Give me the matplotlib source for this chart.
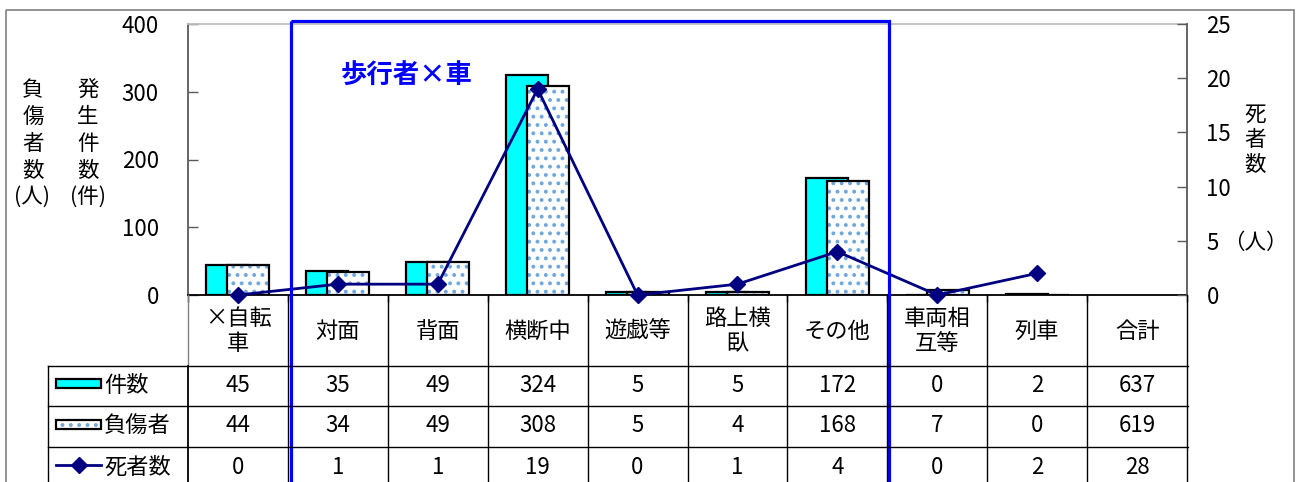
import matplotlib
matplotlib.use("Agg")
import matplotlib.pyplot as plt
from matplotlib.patches import Rectangle
from matplotlib.transforms import blended_transform_factory
import numpy as np

plt.rcParams['font.family'] = ['Noto Sans CJK JP', 'DejaVu Sans']
plt.rcParams['hatch.linewidth'] = 1.6

categories = ['×自転\n車', '対面', '背面', '横断中', '遊戯等', '路上横\n臥',
              'その他', '車両相\n互等', '列車', '合計']
cases = [45, 35, 49, 324, 5, 5, 172, 0, 2, 637]
injured = [44, 34, 49, 308, 5, 4, 168, 7, 0, 619]
deaths = [0, 1, 1, 19, 0, 1, 4, 0, 2, 28]
row_names = ['件数', '負傷者', '死者数']
left_ticks = [0, 100, 200, 300, 400]
right_ticks = [0, 5, 10, 15, 20, 25]

W, H = 1298, 482
CYAN = '#00FFFF'
DOT = '#6FA8DC'
NAVY = '#000080'
FS = 16

fig = plt.figure(figsize=(W / 100, H / 100), dpi=100)
fig.patch.set_facecolor('white')

# main plot area (pixel boxes converted to figure fractions)
ax = fig.add_axes([188 / W, (H - 295) / H, (1187 - 188) / W, (295 - 24) / H])
ax.set_xlim(-0.5, len(categories) - 0.5)
ax.set_ylim(0, 400)
n = len(categories) - 1  # 合計 not plotted
x = np.arange(n)
bw = 0.42
ax.bar(x - 0.105, cases[:n], bw, color=CYAN, edgecolor='black', linewidth=1.6, zorder=2)
ax.bar(x + 0.105, injured[:n], bw, color='white', edgecolor=DOT, linewidth=0,
       hatch='..', zorder=3)
ax.bar(x + 0.105, injured[:n], bw, fill=False, edgecolor='black', linewidth=1.6, zorder=4)

ax.set_yticks(left_ticks)
ax.tick_params(axis='y', direction='in', length=7, width=1, color='#595959',
               labelsize=FS, pad=21)
ax.set_xticks(np.arange(-0.5, len(categories)))
ax.set_xticklabels([])
ax.tick_params(axis='x', direction='out', length=5, width=1, color='black')
ax.spines['top'].set_color('#C0C0C0')
ax.spines['left'].set_color('#595959')
ax.spines['bottom'].set_color('black')
ax.spines['right'].set_visible(False)
for s in ax.spines.values():
    s.set_linewidth(1.3)

ax2 = ax.twinx()
ax2.set_ylim(0, 25)
ax2.plot(x, deaths[:n], color=NAVY, linewidth=2, marker='D', markersize=8,
         zorder=5, clip_on=False)
ax2.set_yticks(right_ticks)
ax2.tick_params(axis='y', direction='in', length=7, width=1, color='#595959',
                labelsize=FS, pad=14)
for k in ['top', 'left', 'bottom']:
    ax2.spines[k].set_visible(False)
ax2.spines['right'].set_color('#595959')
ax2.spines['right'].set_linewidth(1.3)

# overlay in pixel coordinates for table, labels and frames
ov = fig.add_axes([0, 0, 1, 1])
ov.set_xlim(0, W)
ov.set_ylim(H, 0)
ov.axis('off')
ov.set_zorder(10)
ov.patch.set_visible(False)
tr = blended_transform_factory(ax.transData, ov.transData)

# outer frame
ov.add_patch(Rectangle((6, 10), 1288, 500, fill=False, edgecolor='#808080', lw=1.2))

# table grid
ov.plot([48, 1188], [366, 366], color='black', lw=1)
ov.plot([48, 1188], [406, 406], color='black', lw=1)
ov.plot([48, 1188], [447, 447], color='black', lw=1)
ov.plot([48, 48], [366, 490], color='black', lw=1)
ov.plot([188, 188], [295, 366], color='#808080', lw=1)
ov.plot([188, 188], [366, 490], color='black', lw=1.3)
for i in range(1, len(categories) + 1):
    ov.plot([i - 0.5, i - 0.5], [295, 490], color='black', lw=1, transform=tr)

rows = [cases, injured, deaths]
row_y = [386, 426, 467]
for i, c in enumerate(categories):
    ov.text(i, 331, c, transform=tr, ha='center', va='center', fontsize=FS,
            linespacing=1.15)
    for vals, yy in zip(rows, row_y):
        ov.text(i, yy, str(vals[i]), transform=tr, ha='center', va='center', fontsize=FS)

# legend keys in the table
ov.add_patch(Rectangle((56, 379), 45, 9, facecolor=CYAN, edgecolor='black', lw=1.6))
ov.add_patch(Rectangle((56, 420), 45, 9, facecolor='white', edgecolor=DOT, lw=0, hatch='..'))
ov.add_patch(Rectangle((56, 420), 45, 9, fill=False, edgecolor='black', lw=1.6))
ov.plot([56, 101], [465, 465], color=NAVY, lw=2)
ov.plot([78.5], [465], marker='D', color=NAVY, markersize=8)
for name, yy in zip(row_names, row_y):
    ov.text(104, yy, name, ha='left', va='center', fontsize=FS)

# axis titles (stacked characters)
TF = 15.5
for j, ch in enumerate('負傷者数'):
    ov.text(33, 90 + 27 * j, ch, ha='center', va='center', fontsize=TF)
ov.text(32, 197, '(人)', ha='center', va='center', fontsize=TF)
for j, ch in enumerate('発生件数'):
    ov.text(88, 90 + 27 * j, ch, ha='center', va='center', fontsize=TF)
ov.text(88, 197, '(件)', ha='center', va='center', fontsize=TF)
for j, ch in enumerate('死者数'):
    ov.text(1255, 115 + 25 * j, ch, ha='center', va='center', fontsize=TF)
ov.text(1255, 243, '（人）', ha='center', va='center', fontsize=TF)

# pedestrian group box and title
ov.add_patch(Rectangle((291, 21), 598, 500, fill=False, edgecolor='#0000FF', lw=2.3))
ov.text(407, 76, '歩行者×車', ha='center', va='center', fontsize=19,
        fontweight='bold', color='#0000FF')

fig.savefig('out.png', dpi=100)
